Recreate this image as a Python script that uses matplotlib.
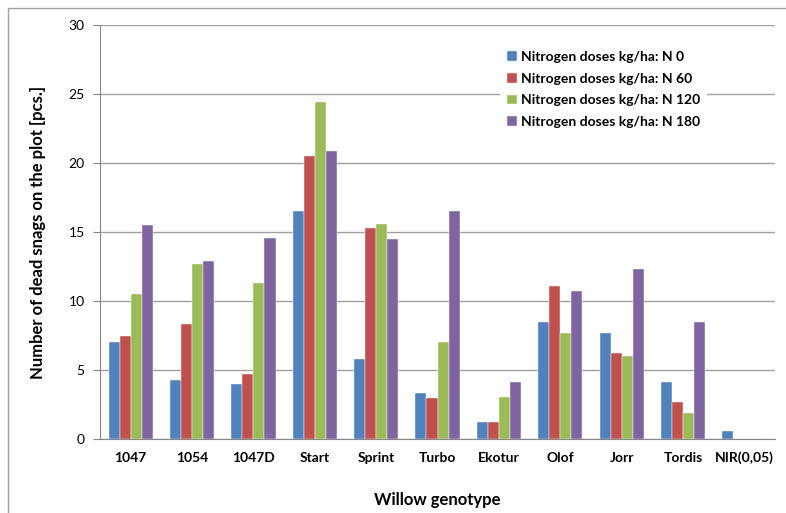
import matplotlib.pyplot as plt
import numpy as np
from matplotlib.patches import Rectangle

plt.rcParams['font.family'] = ['Lato', 'DejaVu Sans']

categories = ['1047', '1054', '1047D', 'Start', 'Sprint', 'Turbo', 'Ekotur',
              'Olof', 'Jorr', 'Tordis', 'NIR(0,05)']
series_names = ['Nitrogen doses kg/ha: N 0', 'Nitrogen doses kg/ha: N 60',
                'Nitrogen doses kg/ha: N 120', 'Nitrogen doses kg/ha: N 180']
n0 = [7.0, 4.3, 4.0, 16.5, 5.8, 3.3, 1.25, 8.5, 7.7, 4.15, 0.55]
n60 = [7.5, 8.3, 4.7, 20.5, 15.3, 3.0, 1.2, 11.1, 6.2, 2.7, 0]
n120 = [10.5, 12.7, 11.3, 24.4, 15.6, 7.0, 3.05, 7.7, 6.0, 1.9, 0]
n180 = [15.5, 12.9, 14.6, 20.9, 14.5, 16.5, 4.15, 10.7, 12.3, 8.5, 0]
colors = ['#4F81BD', '#C0504D', '#9BBB59', '#8064A2']

fig = plt.figure(figsize=(7.86, 5.13), dpi=100)
ax = fig.add_axes([100 / 786, 1 - 439 / 513, 675 / 786, 414 / 513])

# frame around the chart (cut off at right and bottom as in the source)
fig.patches.append(Rectangle((8 / 786, -0.1), 1.2, 1 - 8 / 513 + 0.1,
                             transform=fig.transFigure, fill=False,
                             edgecolor='#a0a0a0', linewidth=1))

x = np.arange(len(categories))
w = 0.18
for i, (vals, name) in enumerate(zip([n0, n60, n120, n180], series_names)):
    ax.bar(x + (i - 1.5) * w, vals, w, color=colors[i], label=name,
           edgecolor='white', linewidth=0.3, zorder=3)

ax.set_xlim(-0.5, len(categories) - 0.5)
ax.set_ylim(0, 30)
ax.set_yticks(range(0, 31, 5))
ax.set_xticks(x)
ax.set_xticklabels(categories, fontweight='bold', fontsize=10)
ax.tick_params(axis='x', length=0, pad=9)
ax.tick_params(axis='y', length=5, color='#868686', labelsize=10, pad=6)
ax.grid(axis='y', color='#a0a0a0', linewidth=1, zorder=0)

for s in ['top', 'right']:
    ax.spines[s].set_visible(False)
for s in ['left', 'bottom']:
    ax.spines[s].set_color('#868686')

ax.set_xlabel('Willow genotype', fontweight='bold', fontsize=12, labelpad=20)
ax.set_ylabel('Number of dead snags on the plot [pcs.]', fontweight='bold',
              fontsize=12, labelpad=16)

leg = ax.legend(loc='upper left', bbox_to_anchor=(393 / 675, 1 - 12 / 414),
                frameon=True, handlelength=0.7, handleheight=0.7,
                handletextpad=0.3, labelspacing=0.7, borderpad=0.5,
                prop={'weight': 'bold', 'size': 10})
leg.get_frame().set_edgecolor('none')
leg.get_frame().set_facecolor('white')
leg.get_frame().set_alpha(1)
leg.set_zorder(5)

fig.savefig('out.png', dpi=100)
